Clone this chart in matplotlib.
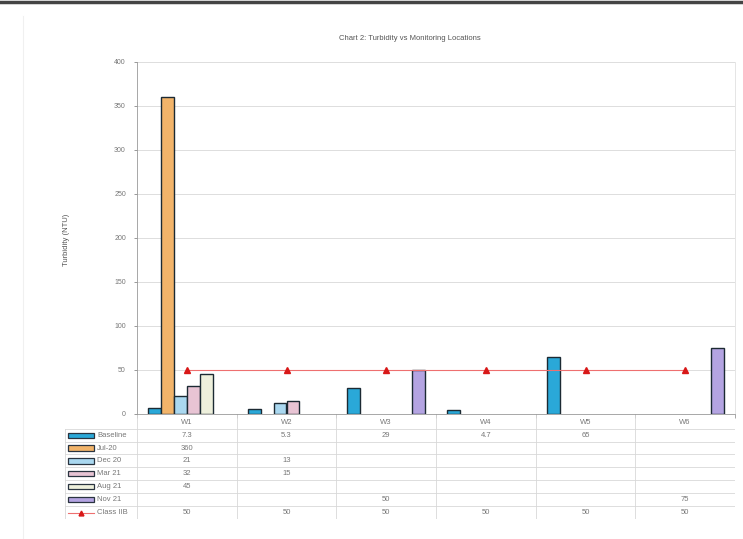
import numpy as np
import matplotlib
matplotlib.use("Agg")
import matplotlib.pyplot as plt
from matplotlib.patches import Rectangle
from matplotlib.lines import Line2D

plt.rcParams['font.family'] = ['Liberation Sans', 'DejaVu Sans']

# ----------DATA----------
locations = ['W1', 'W2', 'W3', 'W4', 'W5', 'W6']
series_names = ['Baseline', 'Jul-20', 'Dec 20', 'Mar 21', 'Aug 21', 'Nov 21']
baseline = [7.3, 5.3, 29, 4.7, 65, None]
jul20 = [360, None, None, None, None, None]
dec20 = [21, 13, None, None, None, None]
mar21 = [32, 15, None, None, None, None]
aug21 = [45, None, None, None, None, None]
nov21 = [None, None, 50, None, None, 75]
class_iib = [50, 50, 50, 50, 50, 50]
series_vals = [baseline, jul20, dec20, mar21, aug21, nov21]
colors = ['#2aa8d8', '#f2b46a', '#aad8f0', '#e8c4d4', '#eef0dc', '#b4a4e2']
txt_col = '#777777'
grid_col = '#d8d8d8'

def fmt(v):
    if v is None:
        return ''
    return f'{v:g}'

fig = plt.figure(figsize=(7.43, 5.39), dpi=100)
W, H = 743, 539

def box(x0, y0, x1, y1):
    return [x0 / W, 1 - y1 / H, (x1 - x0) / W, (y1 - y0) / H]

ax = fig.add_axes(box(137, 62, 735, 414))
x = np.arange(len(locations))
bw = 0.13
for i, (vals, c) in enumerate(zip(series_vals, colors)):
    off = (i - 2.5) * bw
    xs = [xi + off for xi, v in zip(x, vals) if v is not None]
    ys = [v for v in vals if v is not None]
    ax.bar(xs, ys, width=bw, color=c, edgecolor='#1c2a33', linewidth=1.0, zorder=3)
ax.plot(x, class_iib, color='#ee7070', lw=0.8, marker='^', ms=4,
        mfc='#d81818', mec='#d81818', zorder=4)

ax.set_xlim(-0.5, 5.5)
ax.set_ylim(0, 400)
ax.set_yticks(np.arange(0, 401, 50))
ax.set_yticklabels([str(v) for v in range(0, 401, 50)], fontsize=5, color=txt_col)
ax.tick_params(axis='y', length=2, width=0.6, color='#888888', pad=6)
ax.set_xticks(np.arange(-0.5, 6, 1))
ax.set_xticklabels([])
ax.tick_params(axis='x', length=3, width=0.6, color='#999999')
ax.yaxis.grid(True, color=grid_col, lw=0.6)
ax.set_axisbelow(True)
ax.spines['top'].set_visible(False)
ax.spines['right'].set_color('#e0e0e0')
ax.spines['left'].set_color('#999999')
ax.spines['bottom'].set_color('#999999')
for sp in ax.spines.values():
    sp.set_linewidth(0.6)

fig.text(410 / W, 1 - 38 / H, 'Chart 2: Turbidity vs Monitoring Locations',
         ha='center', va='center', fontsize=5.5, color='#555555')
fig.text(66 / W, 1 - 240 / H, 'Turbidity (NTU)', rotation=90,
         ha='center', va='center', fontsize=5.5, color='#555555')

# ----------DATA TABLE----------
tab = fig.add_axes(box(65, 415, 735, 519))
left = -0.5 - 72 / 99.67
tab.set_xlim(left, 5.5)
tab.set_ylim(8, 0)
tab.axis('off')
row_h = [0, 1.05] + [1.05 + k * (6.95 / 7) for k in range(1, 8)]
for k in range(7):
    tab.plot([k - 0.5, k - 0.5], [0, 8], color=grid_col, lw=0.6)
tab.plot([left, left], [row_h[1], 8], color=grid_col, lw=0.6)
for y in row_h[1:]:
    tab.plot([left, 5.5], [y, y], color=grid_col, lw=0.6)
for k, loc in enumerate(locations):
    tab.text(k, row_h[1] / 2 + 0.05, loc, ha='center', va='center', fontsize=5.5, color=txt_col)
for r in range(7):
    yc = (row_h[r + 1] + row_h[r + 2]) / 2
    if r < 6:
        tab.add_patch(Rectangle((left + 0.03, yc - 0.2), 0.26, 0.4, facecolor=colors[r],
                                edgecolor='#2a3440', lw=0.9))
        name = series_names[r]
        labels = [fmt(v) for v in series_vals[r]]
    else:
        tab.plot([left + 0.03, left + 0.29], [yc, yc], color='#ee7070', lw=0.8)
        tab.plot([left + 0.16], [yc], marker='^', ms=3.5, color='#d81818')
        name = 'Class IIB'
        labels = [fmt(v) for v in class_iib]
    tab.text(left + 0.32, yc, name, ha='left', va='center', fontsize=5.5, color=txt_col)
    for k, t in enumerate(labels):
        tab.text(k, yc, t, ha='center', va='center', fontsize=5.5, color=txt_col)

# scan edge
fig.add_artist(Line2D([0, 1], [0.996, 0.996], color='#444444', lw=2.5))
fig.add_artist(Line2D([23 / W, 23 / W], [0, 0.97], color='#f0f0f0', lw=0.8))

fig.savefig('out.png', dpi=100)
